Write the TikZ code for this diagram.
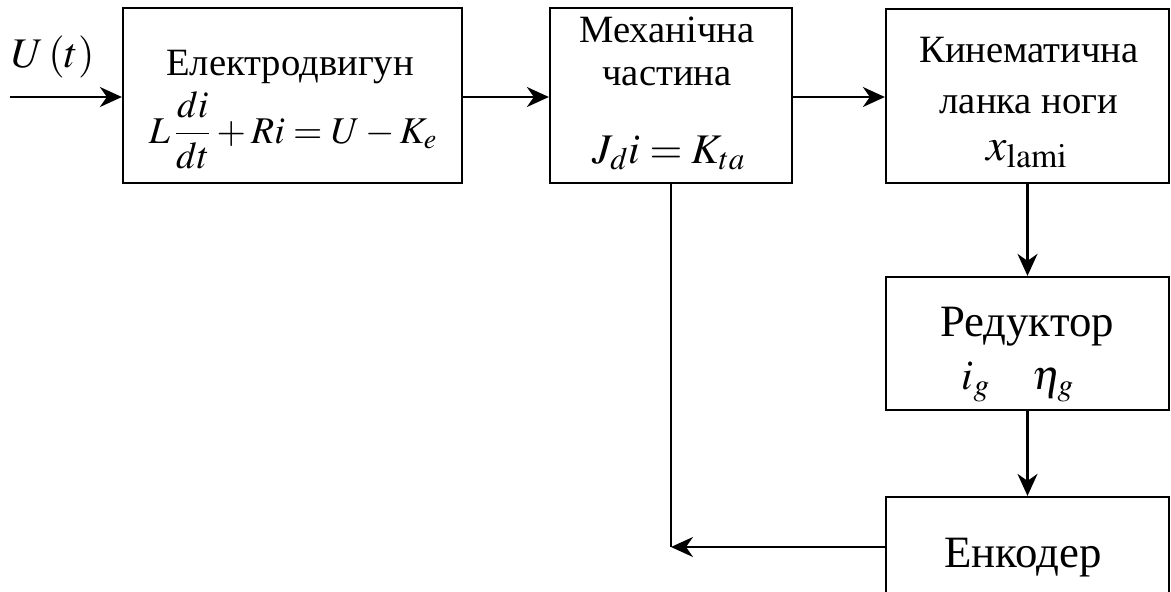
\documentclass[tikz,border=0pt]{standalone}
\usepackage{mathptmx}
\usepackage{fontspec}
\setmainfont{Liberation Serif}
\usetikzlibrary{arrows.meta,positioning}

\tikzset{
  block/.style={draw, line width=1.3pt, inner sep=0pt},
  txt/.style={anchor=base, inner sep=0pt, font=\fontsize{22}{26}\selectfont},
  bigtxt/.style={txt, font=\fontsize{25.5}{30}\selectfont},
  flow/.style={line width=1.3pt, -{Stealth[length=4.4mm,width=4mm,inset=1.4mm]}},
}

\begin{document}
\begin{tikzpicture}[x=0.02cm, y=-0.02cm]
  \useasboundingbox (0,0) rectangle (1171,592);
  \clip (0,0) rectangle (1171,592);

  % blocks
  \node[block, minimum width=6.78cm, minimum height=3.5cm] (motor) at (292.5,95.5) {};
  \node[block, minimum width=4.84cm, minimum height=3.5cm] (mech) at (671,95.5) {};
  \node[block, minimum width=5.66cm, minimum height=3.48cm] (kin) at (1027.5,96) {};
  \node[block, minimum width=5.66cm, minimum height=2.66cm] (gear) at (1027.5,343.5) {};
  \node[block, minimum width=5.66cm, minimum height=2.12cm] (enc) at (1027.5,550) {};

  % texts
  \node[txt] (motorname) at (290,75) {Електродвигун};
  \node[txt, font=\fontsize{21.5}{26}\selectfont] (motoreq) at (293,143) {$\displaystyle L\,\frac{di}{dt}+Ri=U-K_e$};
  \node[txt] (mechname) at (667,42) {Механічна};
  \node[txt] (mechname2) at (667,85) {частина};
  \node[txt, font=\fontsize{24}{28}\selectfont] (mecheq) at (669,163) {$J_d i=K_{ta}$};
  \node[txt] (kinname) at (1029,62) {Кинематична};
  \node[txt] (kinname2) at (1029,113) {ланка ноги};
  \node[txt, font=\fontsize{26}{30}\selectfont] (kineq) at (1027,160) {$x_{\mathrm{lami}}$};
  \node[bigtxt] (gearname) at (1027,336) {Редуктор};
  \node[txt, font=\fontsize{24}{28}\selectfont] (geareq) at (1018,389) {$i_g\quad\eta_g$};
  \node[bigtxt] (encname) at (1023,567) {Енкодер};
  \node[txt, font=\fontsize{24}{28}\selectfont] (input) at (53,67) {$U\,(t)$};

  % connectors
  \coordinate (in) at (10,97);
  \draw[flow] (in) -- (motor.west |- in);
  \draw[flow] (motor.east |- in) -- (mech.west |- in);
  \draw[flow] (mech.east |- in) -- (kin.west |- in);
  \draw[flow] (kin.south) -- (gear.north);
  \draw[flow] (gear.south) -- (enc.north);
  \coordinate (fb) at (mech.south |- 0,547);
  \draw[line width=1.3pt] (mech.south) -- (fb);
  \draw[flow] (enc.west |- fb) -- (fb);
\end{tikzpicture}
\end{document}
